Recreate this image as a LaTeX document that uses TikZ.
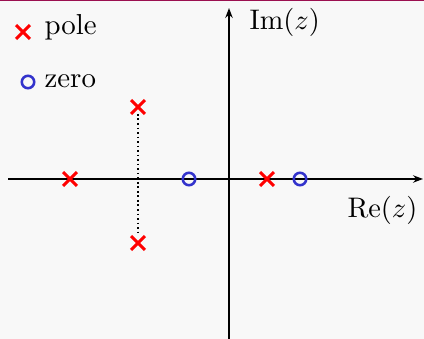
\documentclass[tikz,border=0pt]{standalone}
\usetikzlibrary{shapes.misc,arrows.meta}
\definecolor{bg}{HTML}{F8F8F8}
\definecolor{topline}{HTML}{9B1050}
\definecolor{zeroblue}{HTML}{3333CC}
\begin{document}
\begin{tikzpicture}[x=0.3534pt,y=-0.3534pt,
  polemark/.style={cross out,draw=red,line width=1.1pt,minimum size=3.8pt,inner sep=0pt},
  zeromark/.style={circle,draw=zeroblue,line width=0.9pt,minimum size=4.4pt,inner sep=0pt},
  axis/.style={line width=0.8pt,-{Stealth[length=3.5pt,width=2.6pt]}},
  lbl/.style={anchor=base west,inner sep=0pt,font=\fontsize{10.2}{12}\selectfont}]
\fill[bg] (0,0) rectangle (424,339);
\useasboundingbox (0,0) rectangle (424,339);
\draw[topline,line width=0.7pt] (0,0.5) -- (424,0.5);
% axes
\coordinate (xs) at (8,179);
\coordinate (xe) at (423,179);
\coordinate (ys) at (229,339);
\coordinate (ye) at (229,8);
\draw[axis] (xs) -- (xe);
\draw[axis] (ys) -- (ye);
\node[lbl] (im) at (249,30) {$\mathrm{Im}(z)$};
\node[lbl] (re) at (347,218) {$\mathrm{Re}(z)$};
% legend
\node[polemark] (lp) at (23,32) {};
\node[lbl] (lpt) at (44,35) {pole};
\node[zeromark] (lz) at (28,82) {};
\node[lbl] (lzt) at (44,88) {zero};
% poles and zeros
\node[polemark] (p1) at (70,179) {};
\node[polemark] (p2) at (138,107) {};
\node[polemark] (p3) at (138,243) {};
\node[polemark] (p4) at (267,179) {};
\node[zeromark] (z1) at (189,179) {};
\node[zeromark] (z2) at (300,179) {};
\draw[densely dotted,line width=0.6pt] (p2) -- (p3);
\end{tikzpicture}
\end{document}
